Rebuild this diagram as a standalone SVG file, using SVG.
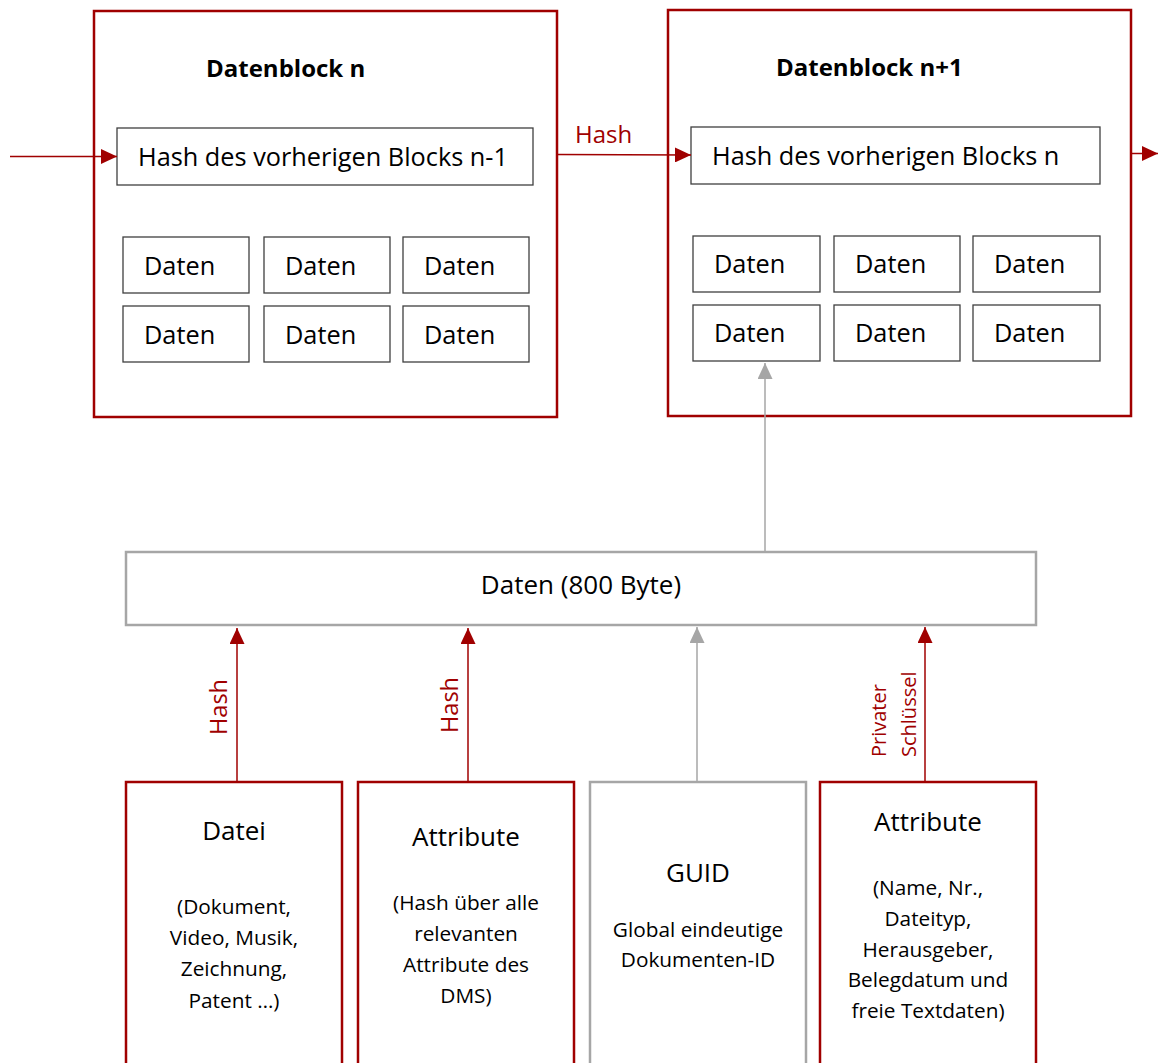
<svg xmlns="http://www.w3.org/2000/svg" width="1158" height="1063" viewBox="0 0 1158 1063">
<defs>
<style>
.blk{fill:#fff;stroke:#A00000;stroke-width:2.5}
.gry{fill:#fff;stroke:#A6A6A6;stroke-width:2.5}
.inr{fill:#fff;stroke:#3F3F3F;stroke-width:1.3}
.t{font-family:"Open Sans","Noto Sans","Liberation Sans",sans-serif;fill:#000}
.ttl{font-weight:bold;font-size:24px}
.big{font-size:25.3px}
.hd{font-size:26px;text-anchor:middle}
.sub{font-size:20.8px;text-anchor:middle}
.lbl{font-family:"Open Sans","Noto Sans","Liberation Sans",sans-serif;fill:#A00000}
.red{stroke:#A00000;stroke-width:1.5;fill:none}
.grl{stroke:#A6A6A6;stroke-width:1.5;fill:none}
</style>
<marker id="ar" viewBox="0 0 16 15" refX="16" refY="7.5" markerWidth="16" markerHeight="15" markerUnits="userSpaceOnUse" orient="auto"><path d="M0,0L16,7.5L0,15Z" fill="#A00000"/></marker>
<marker id="ag" viewBox="0 0 16 15" refX="16" refY="7.5" markerWidth="16" markerHeight="15" markerUnits="userSpaceOnUse" orient="auto"><path d="M0,0L16,7.5L0,15Z" fill="#A6A6A6"/></marker>
</defs>
<rect width="1158" height="1063" fill="#fff"/>

<g id="block-n">
<rect class="blk" x="94" y="11" width="463" height="406"/>
<text class="t ttl" x="206" y="77">Datenblock n</text>
<rect class="inr" x="117" y="128" width="416" height="57"/>
<text class="t big" x="138" y="166">Hash des vorherigen Blocks n-1</text>
<rect class="inr" x="123" y="237" width="126" height="56"/>
<rect class="inr" x="264" y="237" width="126" height="56"/>
<rect class="inr" x="403" y="237" width="126" height="56"/>
<rect class="inr" x="123" y="306" width="126" height="56"/>
<rect class="inr" x="264" y="306" width="126" height="56"/>
<rect class="inr" x="403" y="306" width="126" height="56"/>
<text class="t big" x="144" y="275">Daten</text>
<text class="t big" x="285" y="275">Daten</text>
<text class="t big" x="424" y="275">Daten</text>
<text class="t big" x="144" y="344">Daten</text>
<text class="t big" x="285" y="344">Daten</text>
<text class="t big" x="424" y="344">Daten</text>
</g>

<g id="block-n1">
<rect class="blk" x="668" y="10" width="463" height="406"/>
<text class="t ttl" x="776" y="76">Datenblock n+1</text>
<rect class="inr" x="691" y="127" width="409" height="57"/>
<text class="t big" x="712" y="165">Hash des vorherigen Blocks n</text>
<rect class="inr" x="693" y="236" width="127" height="56"/>
<rect class="inr" x="834" y="236" width="126" height="56"/>
<rect class="inr" x="973" y="236" width="127" height="56"/>
<rect class="inr" x="693" y="305" width="127" height="56"/>
<rect class="inr" x="834" y="305" width="126" height="56"/>
<rect class="inr" x="973" y="305" width="127" height="56"/>
<text class="t big" x="714" y="273">Daten</text>
<text class="t big" x="855" y="273">Daten</text>
<text class="t big" x="994" y="273">Daten</text>
<text class="t big" x="714" y="342">Daten</text>
<text class="t big" x="855" y="342">Daten</text>
<text class="t big" x="994" y="342">Daten</text>
</g>

<g id="daten800">
<rect class="gry" x="126" y="552" width="910" height="73"/>
<text class="t" x="581" y="594" text-anchor="middle" font-size="26">Daten (800 Byte)</text>
</g>

<g id="datei">
<rect class="blk" x="126" y="782" width="216" height="300"/>
<text class="t hd" x="234" y="840">Datei</text>
<text class="t sub" x="234" y="914">(Dokument,</text>
<text class="t sub" x="234" y="945">Video, Musik,</text>
<text class="t sub" x="234" y="976">Zeichnung,</text>
<text class="t sub" x="234" y="1008">Patent …)</text>
</g>

<g id="attribute-hash">
<rect class="blk" x="358" y="782" width="216" height="300"/>
<text class="t hd" x="466" y="846">Attribute</text>
<text class="t sub" x="466" y="910">(Hash über alle</text>
<text class="t sub" x="466" y="941">relevanten</text>
<text class="t sub" x="466" y="972">Attribute des</text>
<text class="t sub" x="466" y="1003">DMS)</text>
</g>

<g id="guid">
<rect class="gry" x="590" y="782" width="216" height="300"/>
<text class="t hd" x="698" y="882">GUID</text>
<text class="t sub" x="698" y="937">Global eindeutige</text>
<text class="t sub" x="698" y="967">Dokumenten-ID</text>
</g>

<g id="attribute-key">
<rect class="blk" x="820" y="782" width="216" height="300"/>
<text class="t hd" x="928" y="831">Attribute</text>
<text class="t sub" x="928" y="895">(Name, Nr.,</text>
<text class="t sub" x="928" y="926">Dateityp,</text>
<text class="t sub" x="928" y="957">Herausgeber,</text>
<text class="t sub" x="928" y="987">Belegdatum und</text>
<text class="t sub" x="928" y="1018">freie Textdaten)</text>
</g>

<g id="connectors">
<line class="red" x1="10" y1="156.5" x2="117" y2="156.5" marker-end="url(#ar)"/>
<line class="red" x1="557" y1="154.5" x2="691" y2="155" marker-end="url(#ar)"/>
<text class="lbl" x="575" y="143" font-size="24">Hash</text>
<line class="red" x1="1131" y1="153.5" x2="1158" y2="153.5" marker-end="url(#ar)"/>
<line class="grl" x1="765" y1="551" x2="765" y2="363" marker-end="url(#ag)"/>
<line class="red" x1="237" y1="782" x2="237" y2="628" marker-end="url(#ar)"/>
<text class="lbl" font-size="23.5" text-anchor="middle" transform="translate(227,707) rotate(-90)">Hash</text>
<line class="red" x1="468" y1="782" x2="468" y2="628" marker-end="url(#ar)"/>
<text class="lbl" font-size="23.5" text-anchor="middle" transform="translate(458,705) rotate(-90)">Hash</text>
<line class="grl" x1="697" y1="782" x2="697" y2="627" marker-end="url(#ag)"/>
<line class="red" x1="925" y1="782" x2="925" y2="627" marker-end="url(#ar)"/>
<text class="lbl" font-size="20" transform="translate(886,757) rotate(-90)">Privater</text>
<text class="lbl" font-size="20" transform="translate(916,757) rotate(-90)">Schlüssel</text>
</g>
</svg>
